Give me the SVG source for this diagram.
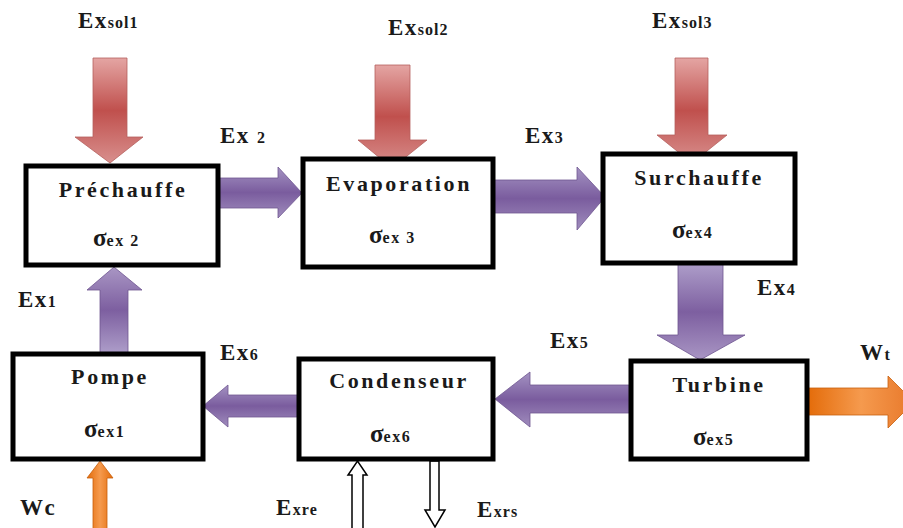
<svg xmlns="http://www.w3.org/2000/svg" width="903" height="528" viewBox="0 0 903 528">
<defs>
<linearGradient id="gRed" x1="0" y1="0" x2="0" y2="1">
<stop offset="0" stop-color="#e4a5a3"/><stop offset="0.5" stop-color="#c0504d"/><stop offset="1" stop-color="#d88f8d"/>
</linearGradient>
<linearGradient id="gPurH" x1="0" y1="0" x2="0" y2="1">
<stop offset="0" stop-color="#a493c2"/><stop offset="0.5" stop-color="#7a5c9e"/><stop offset="1" stop-color="#a08dbd"/>
</linearGradient>
<linearGradient id="gPurV" x1="0" y1="0" x2="0" y2="1">
<stop offset="0" stop-color="#ad9dc9"/><stop offset="0.5" stop-color="#7d5fa0"/><stop offset="1" stop-color="#a996c4"/>
</linearGradient>
<linearGradient id="gPurVu" x1="0" y1="1" x2="0" y2="0">
<stop offset="0" stop-color="#ad9dc9"/><stop offset="0.5" stop-color="#7d5fa0"/><stop offset="1" stop-color="#a996c4"/>
</linearGradient>
<linearGradient id="gOrH" x1="0" y1="0" x2="1" y2="0">
<stop offset="0" stop-color="#e46c0a"/><stop offset="0.5" stop-color="#f59a4e"/><stop offset="1" stop-color="#e8782a"/>
</linearGradient>
<linearGradient id="gOrV" x1="0" y1="0" x2="1" y2="0">
<stop offset="0" stop-color="#e46c0a"/><stop offset="0.5" stop-color="#f59a4e"/><stop offset="1" stop-color="#e46c0a"/>
</linearGradient>
</defs>
<style>
.box{fill:#fff;stroke:#000;stroke-width:5}
text{font-family:"Liberation Serif","Times New Roman","DejaVu Serif",serif;font-weight:bold;fill:#1a1a1a}
.name{font-size:22px;letter-spacing:2.6px;text-anchor:middle}
.sig{font-size:16px;letter-spacing:1.5px}
.big{font-size:25px}
.lab{font-size:23px;letter-spacing:1.5px}
.sub{font-size:16px;letter-spacing:1px}
.red{fill:url(#gRed);stroke:#b5605d;stroke-width:0.8}
.purH{fill:url(#gPurH);stroke:#6e5590;stroke-width:0.8}
.purV{fill:url(#gPurV);stroke:#6e5590;stroke-width:0.8}
.purVu{fill:url(#gPurVu);stroke:#6e5590;stroke-width:0.8}
.orH{fill:url(#gOrH);stroke:#c8600c;stroke-width:0.8}
.orV{fill:url(#gOrV);stroke:#c8600c;stroke-width:0.8}
.hollow{fill:#fff;stroke:#000;stroke-width:1.5}
</style>

<g id="connectors">
<path class="red" d="M93,58 H127 V137 H143 L110,163 L75,137 H93 Z"/>
<path class="red" d="M375,65 H410 V140 H427 L392,168 L358,140 H375 Z"/>
<path class="red" d="M675,58 H708 V135 H727 L692,163 L657,135 H675 Z"/>
<path class="purH" d="M218,178 H278 V167 L302,193 L278,218 V208 H218 Z"/>
<path class="purH" d="M493,180 H577 V167 L605,197 L577,230 V213 H493 Z"/>
<path class="purV" d="M678,264 H723 V335 H745 L700,360 L657,335 H678 Z"/>
<path class="purH" d="M630,385 H530 V372 L495,399 L530,427 V413 H630 Z"/>
<path class="purH" d="M300,395 H228 V385 L203,406 L228,427 V417 H300 Z"/>
<path class="purVu" d="M100,353 V290 H87 L114,267 L142,290 H128 V353 Z"/>
<path class="orH" d="M808,388 H888 V376 L914,402 L888,428 V415 H808 Z"/>
<path class="orV" d="M93,530 V478 H87 L100,461 L113,478 H107 V530 Z"/>
<path class="hollow" d="M352,530 V475 H348 L357.5,461 L367,475 H363 V530 Z"/>
<path class="hollow" d="M430,461 H439 V510 H445 L435,527 L425,510 H430 Z"/>
</g>

<g id="prechauffe">
<rect class="box" x="26" y="166" width="192" height="99"/>
<text class="name" x="123" y="197" font-family="Liberation Serif, serif">Préchauffe</text>
<text x="93" y="246" font-family="Liberation Serif, serif"><tspan class="big">σ</tspan><tspan class="sig">ex 2</tspan></text>
</g>
<g id="evaporation">
<rect class="box" x="303" y="159" width="190" height="108"/>
<text class="name" x="399" y="191" font-family="Liberation Serif, serif">Evaporation</text>
<text x="369" y="243" font-family="Liberation Serif, serif"><tspan class="big">σ</tspan><tspan class="sig">ex 3</tspan></text>
</g>
<g id="surchauffe">
<rect class="box" x="603" y="154" width="192" height="109"/>
<text class="name" x="699" y="185" font-family="Liberation Serif, serif">Surchauffe</text>
<text x="672" y="238" font-family="Liberation Serif, serif"><tspan class="big">σ</tspan><tspan class="sig">ex4</tspan></text>
</g>
<g id="turbine">
<rect class="box" x="631" y="361" width="176" height="98"/>
<text class="name" x="719" y="392" font-family="Liberation Serif, serif">Turbine</text>
<text x="693" y="445" font-family="Liberation Serif, serif"><tspan class="big">σ</tspan><tspan class="sig">ex5</tspan></text>
</g>
<g id="condenseur">
<rect class="box" x="299" y="359" width="194" height="100"/>
<text class="name" x="399" y="388" font-family="Liberation Serif, serif">Condenseur</text>
<text x="370" y="442" font-family="Liberation Serif, serif"><tspan class="big">σ</tspan><tspan class="sig">ex6</tspan></text>
</g>
<g id="pompe">
<rect class="box" x="13" y="354" width="190" height="105"/>
<text class="name" x="110" y="384" font-family="Liberation Serif, serif">Pompe</text>
<text x="84" y="437" font-family="Liberation Serif, serif"><tspan class="big">σ</tspan><tspan class="sig">ex1</tspan></text>
</g>

<g id="labels" font-family="Liberation Serif, serif">
<text x="78" y="28"><tspan class="lab">Ex</tspan><tspan class="sub">sol1</tspan></text>
<text x="388" y="35"><tspan class="lab">Ex</tspan><tspan class="sub">sol2</tspan></text>
<text x="652" y="28"><tspan class="lab">Ex</tspan><tspan class="sub">sol3</tspan></text>
<text x="220" y="143"><tspan class="lab">Ex </tspan><tspan class="sub">2</tspan></text>
<text x="525" y="143"><tspan class="lab">Ex</tspan><tspan class="sub">3</tspan></text>
<text x="757" y="295"><tspan class="lab">Ex</tspan><tspan class="sub">4</tspan></text>
<text x="550" y="348"><tspan class="lab">Ex</tspan><tspan class="sub">5</tspan></text>
<text x="220" y="360"><tspan class="lab">Ex</tspan><tspan class="sub">6</tspan></text>
<text x="18" y="307"><tspan class="lab">Ex</tspan><tspan class="sub">1</tspan></text>
<text x="860" y="360"><tspan class="lab">W</tspan><tspan class="sub">t</tspan></text>
<text x="20" y="515"><tspan class="lab">Wc</tspan></text>
<text x="276" y="515"><tspan class="lab">E</tspan><tspan class="sub">xre</tspan></text>
<text x="477" y="517"><tspan class="lab">E</tspan><tspan class="sub">xrs</tspan></text>
</g>
</svg>
